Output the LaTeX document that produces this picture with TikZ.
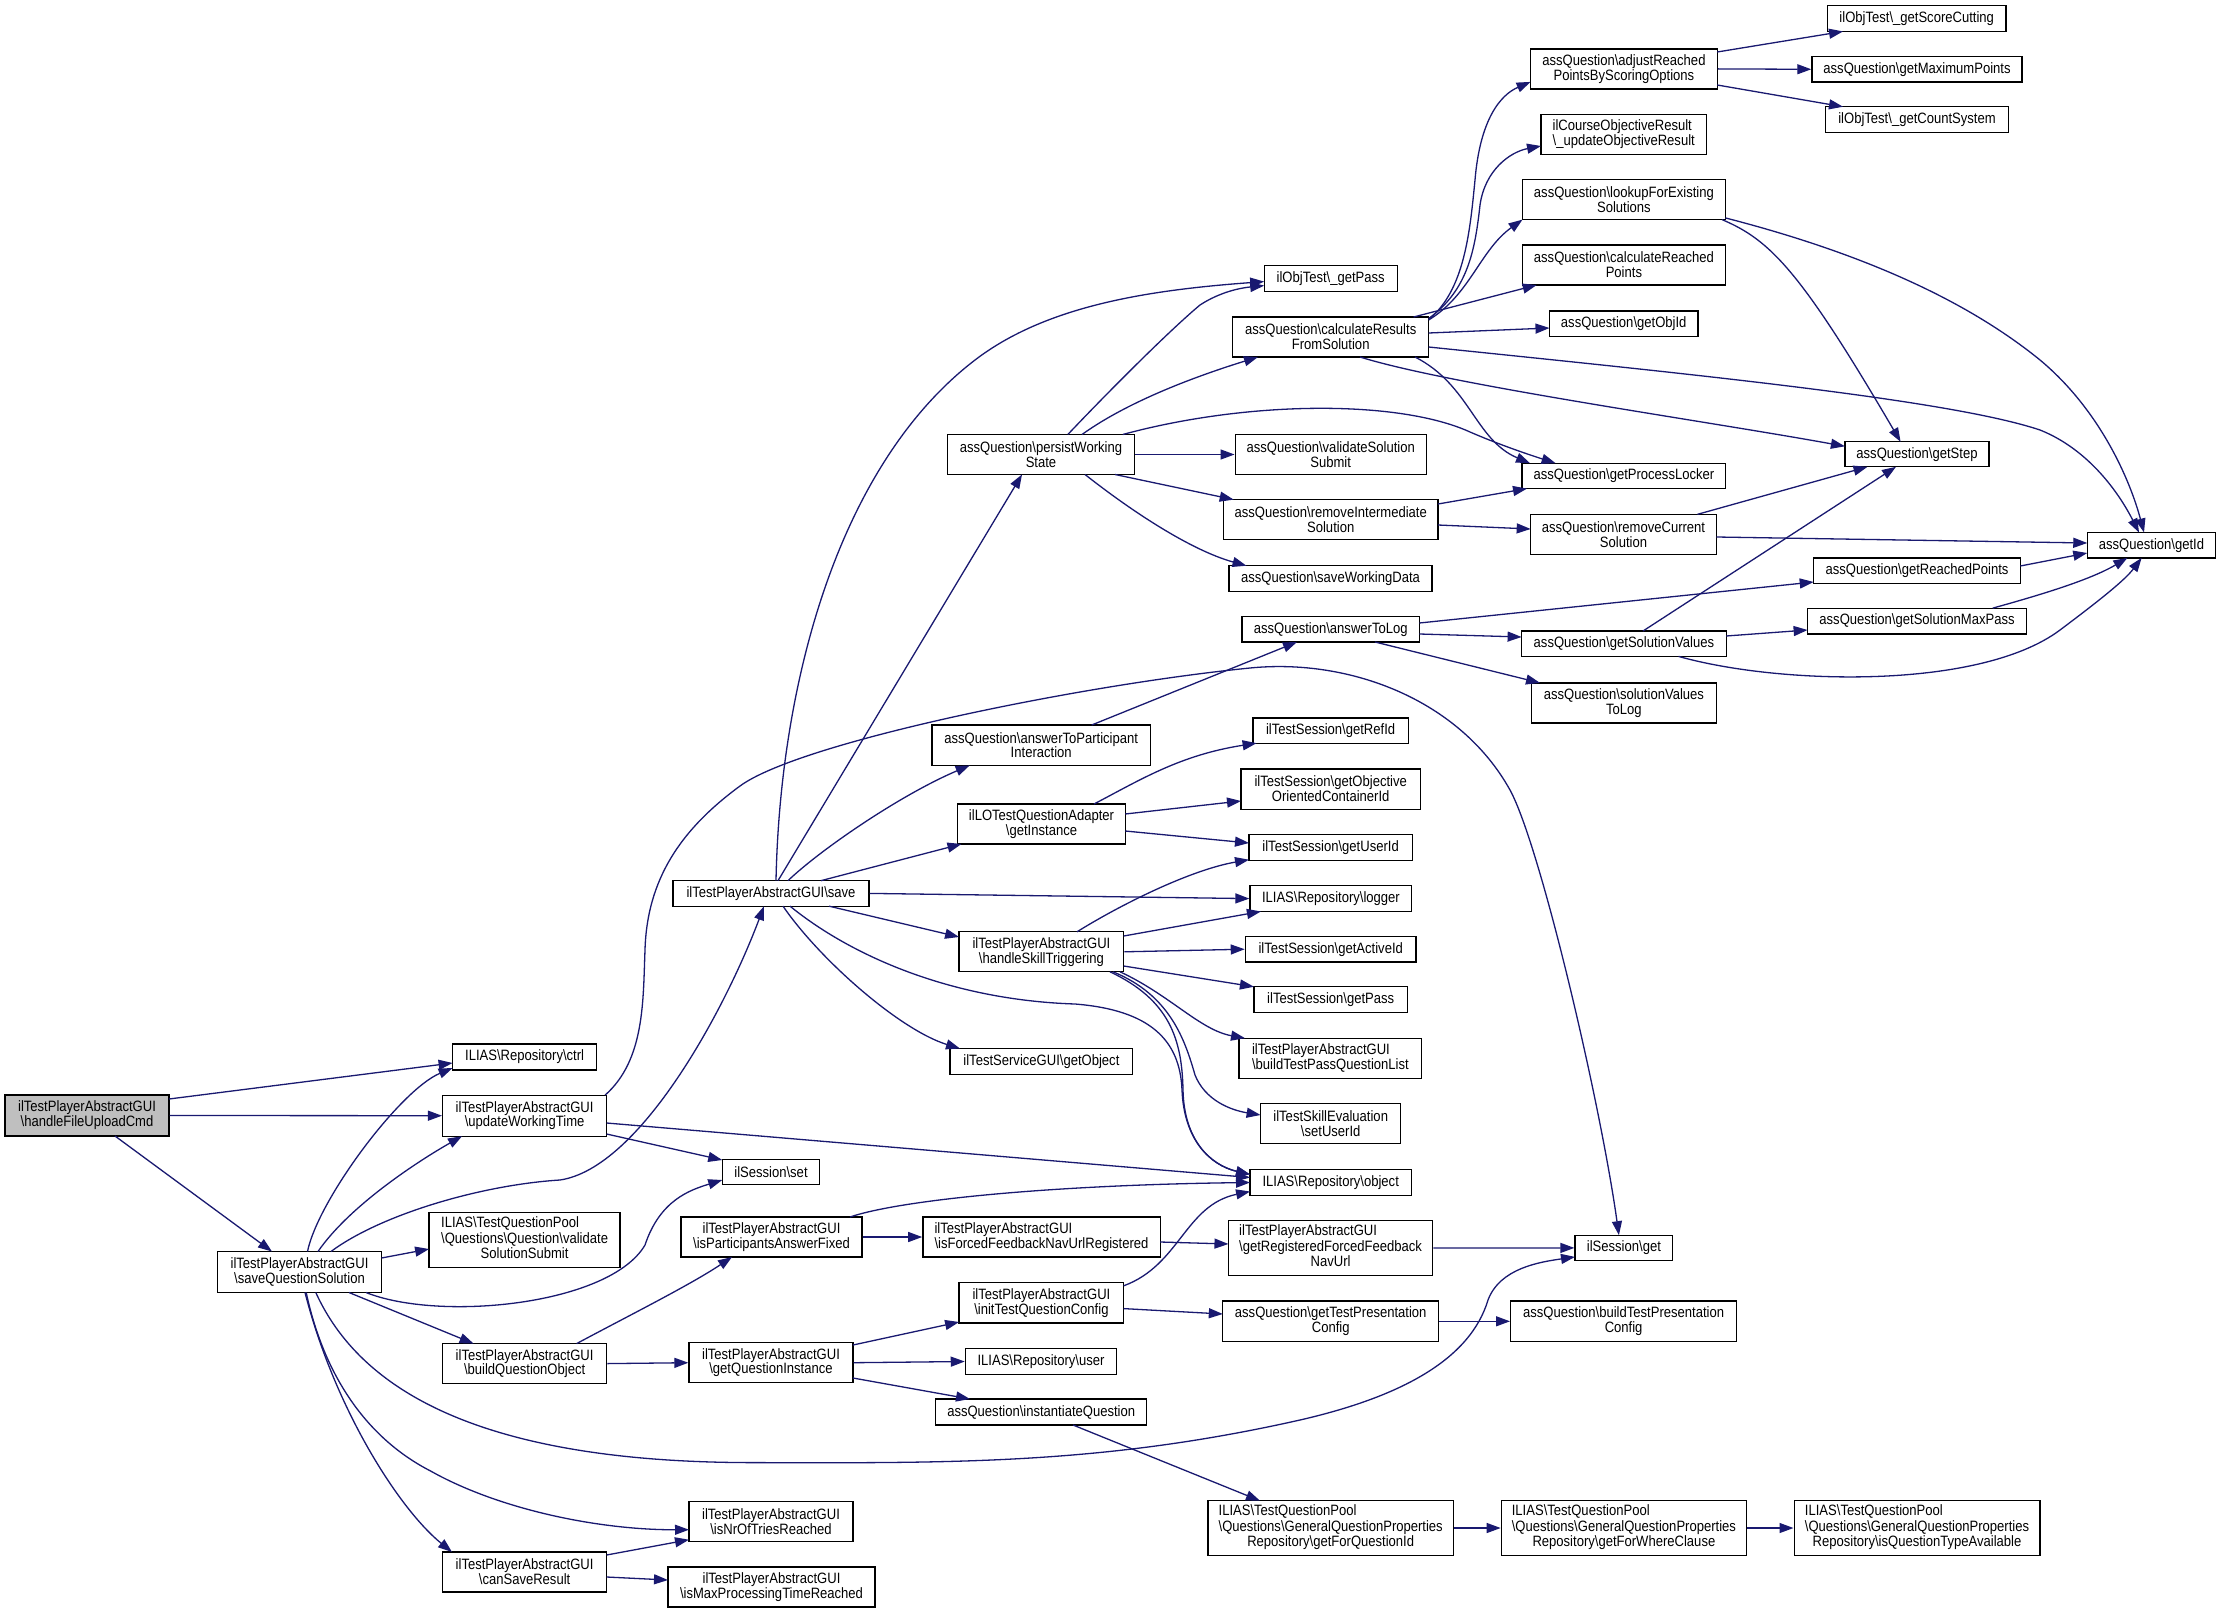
\documentclass[tikz,border=0pt]{standalone}
\usepackage{fontspec}
\setmainfont{Liberation Sans}[FakeStretch=0.87]
\usetikzlibrary{calc,arrows.meta}
\definecolor{edgeblue}{HTML}{191970}
\definecolor{nodegray}{HTML}{BFBFBF}
\newcommand{\BS}{\textbackslash}
\newcommand{\TriLine}[3]{\begin{tabular}{@{}l@{}}#1\\#2\\\multicolumn{1}{@{}c@{}}{#3}\end{tabular}}
\begin{document}
\begin{tikzpicture}[x=1pt,y=-1pt,
  box/.style={draw=black,line width=1.3pt,fill=white,inner sep=0pt,align=center,
    font=\fontsize{15}{14.8}\selectfont,anchor=center},
  cg/.style={draw=edgeblue,line width=1.3pt,-{Triangle[length=14pt,width=10pt]}}]
\useasboundingbox (0,0) rectangle (2221,1613);
\fill[white] (0,0) rectangle (2221,1613);
% column 0-2
\node[box,fill=nodegray,minimum width=164pt,minimum height=41pt] (A) at (87,1115.5) {ilTestPlayerAbstractGUI\\\BS handleFileUploadCmd};
\node[box,minimum width=164pt,minimum height=41pt] (S) at (299.5,1272) {ilTestPlayerAbstractGUI\\\BS saveQuestionSolution};
\node[box,minimum width=144pt,minimum height=26pt] (ctrl) at (524.6,1057) {ILIAS\BS Repository\BS ctrl};
\node[box,minimum width=164pt,minimum height=41pt] (U) at (524.6,1115.7) {ilTestPlayerAbstractGUI\\\BS updateWorkingTime};
\node[box,minimum width=191pt,minimum height=55pt] (VS) at (524.6,1240) {\TriLine{ILIAS\BS TestQuestionPool}{\BS Questions\BS Question\BS validate}{SolutionSubmit}};
\node[box,minimum width=164pt,minimum height=40pt] (B) at (524.6,1363.6) {ilTestPlayerAbstractGUI\\\BS buildQuestionObject};
\node[box,minimum width=164pt,minimum height=40pt] (CS) at (524.6,1572) {ilTestPlayerAbstractGUI\\\BS canSaveResult};
% column 3
\node[box,minimum width=196pt,minimum height=25.5pt] (V) at (771,893.4) {ilTestPlayerAbstractGUI\BS save};
\node[box,minimum width=97.5pt,minimum height=25.5pt] (set) at (771,1172) {ilSession\BS set};
\node[box,minimum width=181pt,minimum height=40pt] (F) at (771.5,1237) {ilTestPlayerAbstractGUI\\\BS isParticipantsAnswerFixed};
\node[box,minimum width=164pt,minimum height=40pt] (GQ) at (771,1362.7) {ilTestPlayerAbstractGUI\\\BS getQuestionInstance};
\node[box,minimum width=164pt,minimum height=40pt] (NT) at (771,1521.7) {ilTestPlayerAbstractGUI\\\BS isNrOfTriesReached};
\node[box,minimum width=207pt,minimum height=40pt] (MP) at (771.5,1587) {ilTestPlayerAbstractGUI\\\BS isMaxProcessingTimeReached};
% column 4
\node[box,minimum width=187pt,minimum height=40pt] (P) at (1041,454.5) {assQuestion\BS persistWorking\\State};
\node[box,minimum width=218.6pt,minimum height=40.4pt] (Q) at (1041.2,745.2) {assQuestion\BS answerToParticipant\\Interaction};
\node[box,minimum width=167.5pt,minimum height=40pt] (I) at (1041.5,824) {ilLOTestQuestionAdapter\\\BS getInstance};
\node[box,minimum width=164.6pt,minimum height=40pt] (H) at (1041.4,951.8) {ilTestPlayerAbstractGUI\\\BS handleSkillTriggering};
\node[box,minimum width=182.8pt,minimum height=25.7pt] (SG) at (1041.4,1061.4) {ilTestServiceGUI\BS getObject};
\node[box,align=left,minimum width=237.3pt,minimum height=40.2pt] (K) at (1041.5,1237) {ilTestPlayerAbstractGUI\\\BS isForcedFeedbackNavUrlRegistered};
\node[box,minimum width=164.6pt,minimum height=40.2pt] (IT) at (1041.4,1302.8) {ilTestPlayerAbstractGUI\\\BS initTestQuestionConfig};
\node[box,minimum width=151.2pt,minimum height=26.2pt] (US) at (1041,1361.5) {ILIAS\BS Repository\BS user};
\node[box,minimum width=211pt,minimum height=26pt] (IQ) at (1041.2,1412) {assQuestion\BS instantiateQuestion};
% column 5
\node[box,minimum width=133pt,minimum height=25.7pt] (OP) at (1330.7,278.6) {ilObjTest\BS\_getPass};
\node[box,minimum width=195.8pt,minimum height=40pt] (C) at (1330.7,337) {assQuestion\BS calculateResults\\FromSolution};
\node[box,minimum width=191pt,minimum height=40pt] (AVS) at (1330.7,454.5) {assQuestion\BS validateSolution\\Submit};
\node[box,minimum width=214.7pt,minimum height=40pt] (RI) at (1330.7,519.6) {assQuestion\BS removeIntermediate\\Solution};
\node[box,minimum width=203pt,minimum height=25.7pt] (SW) at (1330.5,578.6) {assQuestion\BS saveWorkingData};
\node[box,minimum width=177.5pt,minimum height=25.6pt] (T) at (1330.7,629.2) {assQuestion\BS answerToLog};
\node[box,minimum width=155.5pt,minimum height=25.3pt] (RF) at (1330.6,730.5) {ilTestSession\BS getRefId};
\node[box,minimum width=179.4pt,minimum height=40.3pt] (OC) at (1330.7,789) {ilTestSession\BS getObjective\\OrientedContainerId};
\node[box,minimum width=163.2pt,minimum height=26pt] (UI) at (1330.6,847.7) {ilTestSession\BS getUserId};
\node[box,minimum width=161.8pt,minimum height=25.7pt] (LG) at (1330.9,898.6) {ILIAS\BS Repository\BS logger};
\node[box,minimum width=170.7pt,minimum height=25.6pt] (AI) at (1330.7,949.2) {ilTestSession\BS getActiveId};
\node[box,minimum width=153.6pt,minimum height=25.7pt] (TS) at (1330.7,999.6) {ilTestSession\BS getPass};
\node[box,align=left,minimum width=182.8pt,minimum height=40pt] (BL) at (1330.4,1058.2) {ilTestPlayerAbstractGUI\\\BS buildTestPassQuestionList};
\node[box,minimum width=140.2pt,minimum height=39.8pt] (SU) at (1330.7,1123.7) {ilTestSkillEvaluation\\\BS setUserId};
\node[box,minimum width=161.3pt,minimum height=25.5pt] (OB) at (1330.7,1182.5) {ILIAS\BS Repository\BS object};
\node[box,minimum width=204.3pt,minimum height=55.1pt] (N) at (1330.6,1248) {\TriLine{ilTestPlayerAbstractGUI}{\BS getRegisteredForcedFeedback}{NavUrl}};
\node[box,minimum width=215.8pt,minimum height=40.6pt] (TP) at (1330.7,1321.3) {assQuestion\BS getTestPresentation\\Config};
\node[box,minimum width=245.4pt,minimum height=54.5pt] (FQ) at (1330.7,1528) {\TriLine{ILIAS\BS TestQuestionPool}{\BS Questions\BS GeneralQuestionProperties}{Repository\BS getForQuestionId}};
% column 6
\node[box,minimum width=186.6pt,minimum height=40pt] (J) at (1623.9,68.9) {assQuestion\BS adjustReached\\PointsByScoringOptions};
\node[box,align=left,minimum width=165.4pt,minimum height=40.3pt] (CO) at (1623.7,134.5) {ilCourseObjectiveResult\\\BS\_updateObjectiveResult};
\node[box,minimum width=202.8pt,minimum height=40pt] (L) at (1623.9,199.6) {assQuestion\BS lookupForExisting\\Solutions};
\node[box,minimum width=202.8pt,minimum height=40pt] (CR) at (1623.9,265) {assQuestion\BS calculateReached\\Points};
\node[box,minimum width=148.4pt,minimum height=25.4pt] (OI) at (1623.7,323.7) {assQuestion\BS getObjId};
\node[box,minimum width=203.7pt,minimum height=25.4pt] (PL) at (1623.9,475.9) {assQuestion\BS getProcessLocker};
\node[box,minimum width=185.7pt,minimum height=40.3pt] (RC) at (1623.5,534.5) {assQuestion\BS removeCurrent\\Solution};
\node[box,minimum width=204.6pt,minimum height=25.4pt] (G) at (1623.9,643.7) {assQuestion\BS getSolutionValues};
\node[box,minimum width=184.8pt,minimum height=40pt] (SL) at (1623.9,702.9) {assQuestion\BS solutionValues\\ToLog};
\node[box,minimum width=97.8pt,minimum height=25.5pt] (get) at (1623.9,1247.9) {ilSession\BS get};
\node[box,minimum width=225.9pt,minimum height=40.6pt] (BP) at (1623.6,1321.3) {assQuestion\BS buildTestPresentation\\Config};
\node[box,minimum width=245.2pt,minimum height=54.5pt] (FW) at (1623.9,1528) {\TriLine{ILIAS\BS TestQuestionPool}{\BS Questions\BS GeneralQuestionProperties}{Repository\BS getForWhereClause}};
% column 7-8
\node[box,minimum width=178.6pt,minimum height=25.7pt] (SC) at (1916.7,18.6) {ilObjTest\BS\_getScoreCutting};
\node[box,minimum width=210.2pt,minimum height=25.7pt] (MX) at (1917,69.3) {assQuestion\BS getMaximumPoints};
\node[box,minimum width=182.9pt,minimum height=25.7pt] (CN) at (1917,119.6) {ilObjTest\BS\_getCountSystem};
\node[box,minimum width=144.2pt,minimum height=25pt] (ST) at (1917,454.3) {assQuestion\BS getStep};
\node[box,minimum width=206.6pt,minimum height=25.3pt] (RP) at (1917,570.5) {assQuestion\BS getReachedPoints};
\node[box,minimum width=218.8pt,minimum height=25.7pt] (SM) at (1917,621) {assQuestion\BS getSolutionMaxPass};
\node[box,minimum width=245.7pt,minimum height=54.5pt] (QT) at (1917,1528) {\TriLine{ILIAS\BS TestQuestionPool}{\BS Questions\BS GeneralQuestionProperties}{Repository\BS isQuestionTypeAvailable}};
\node[box,minimum width=128.5pt,minimum height=25.4pt] (ID) at (2151.5,545.2) {assQuestion\BS getId};
% ---------- edges ----------
% from A
\draw[cg] ($(A)+(82,-16.5)$) -- ($(ctrl)+(-72,6)$);
\draw[cg] (A.east) -- (U.west);
\draw[cg] ($(A)+(28,20.5)$) -- ($(S)+(-27.5,-20.5)$);
% from S
\draw[cg] ($(S)+(8,-20.5)$) .. controls (318,1200) and (400,1090) .. ($(ctrl)+(-72,11)$);
\draw[cg] ($(S)+(18.5,-20.5)$) .. controls (350,1205) and (420,1160) .. ($(U)+(-62.6,20.5)$);
\draw[cg] ($(S)+(31.5,-20.5)$) .. controls (380,1215) and (480,1185) .. (560,1180) .. controls (640,1168) and (725,1010) .. ($(V)+(-7,12.75)$);
\draw[cg] ($(S)+(66.5,20.5)$) .. controls (440,1322) and (610,1305) .. (645,1245) .. controls (660,1200) and (690,1190) .. ($(set)+(-48.75,8)$);
\draw[cg] ($(S)+(16.3,20.5)$) .. controls (360,1390) and (480,1462) .. (750,1462.6) .. controls (950,1463) and (1100,1465) .. (1300,1420) .. controls (1400,1397) and (1470,1360) .. (1488,1300) .. controls (1500,1268) and (1540,1262) .. ($(get)+(-48.9,9)$);
\draw[cg] ($(S)+(82,-14)$) -- ($(VS)+(-95.5,9)$);
\draw[cg] ($(S)+(49.5,20.5)$) -- ($(B)+(-51,-20)$);
\draw[cg] ($(S)+(6.7,20.5)$) .. controls (325,1380) and (370,1440) .. (430.6,1471) .. controls (500,1510) and (600,1530) .. ($(NT)+(-82,8)$);
\draw[cg] ($(S)+(5.5,20.5)$) .. controls (335,1410) and (400,1510) .. ($(CS)+(-72.6,-20)$);
% from U
\draw[cg] ($(U)+(82,18.3)$) -- ($(set)+(-48.75,-12)$);
\draw[cg] ($(U)+(82,7.3)$) -- ($(OB)+(-80.65,-5)$);
\draw[cg] ($(U)+(80.4,-20.5)$) .. controls (645,1060) and (643,1000) .. (645,950) .. controls (647,880) and (680,830) .. (740,786) .. controls (800,742) and (1080,685) .. (1250,668) .. controls (1350,658) and (1460,700) .. (1510,790) .. controls (1540,845) and (1600,1100) .. ($(get)+(-5,-12.75)$);
% from V (save)
\draw[cg] ($(V)+(5,-12.75)$) .. controls (780,680) and (840,460) .. (979,357) .. controls (1050,305) and (1150,290) .. ($(OP)+(-66.5,3)$);
\draw[cg] ($(V)+(7,-12.75)$) -- ($(P)+(-19,20)$);
\draw[cg] ($(V)+(17,-12.75)$) .. controls (820,850) and (900,795) .. ($(Q)+(-71.5,20.2)$);
\draw[cg] ($(V)+(50,-12.75)$) -- ($(I)+(-80,20)$);
\draw[cg] (V.east) -- (LG.west);
\draw[cg] ($(V)+(58,12.75)$) -- ($(H)+(-82.3,-14.8)$);
\draw[cg] ($(V)+(12,12.75)$) .. controls (820,960) and (900,1030) .. ($(SG)+(-81.4,-12.85)$);
\draw[cg] ($(V)+(19,12.75)$) .. controls (850,955) and (950,1000) .. (1075,1004) .. controls (1150,1010) and (1180,1040) .. (1182,1090) .. controls (1184,1140) and (1210,1165) .. ($(OB)+(-80.65,-8)$);
% from H
\draw[cg] ($(H)+(35.6,-20)$) .. controls (1120,905) and (1190,870) .. ($(UI)+(-81.6,12)$);
\draw[cg] ($(H)+(82.3,-15.8)$) -- ($(LG)+(-70,12.85)$);
\draw[cg] (H.east) -- (AI.west);
\draw[cg] ($(H)+(82.3,14.2)$) -- ($(TS)+(-76.8,-12.85)$);
\draw[cg] ($(H)+(78.6,20)$) .. controls (1170,995) and (1200,1030) .. ($(BL)+(-85.4,-20)$);
\draw[cg] ($(H)+(71.6,20)$) .. controls (1170,995) and (1185,1040) .. (1195,1075) .. controls (1205,1100) and (1230,1110) .. ($(SU)+(-70.1,-8.7)$);
\draw[cg] ($(H)+(68.6,20)$) .. controls (1170,1000) and (1182,1040) .. (1183,1090) .. controls (1184,1140) and (1210,1165) .. ($(OB)+(-80.65,-8)$);
% from I and Q
\draw[cg] ($(I)+(52.5,-20)$) .. controls (1140,780) and (1180,755) .. ($(RF)+(-74,12.65)$);
\draw[cg] ($(I)+(83.75,-10)$) -- ($(OC)+(-89.7,12)$);
\draw[cg] ($(I)+(83.75,7)$) -- ($(UI)+(-81.6,-4.7)$);
\draw[cg] ($(Q)+(50.5,-20.2)$) -- ($(T)+(-33.7,12.8)$);
% from P
\draw[cg] ($(P)+(26.8,-20)$) .. controls (1110,390) and (1170,330) .. (1200,305) .. controls (1220,292) and (1240,288) .. ($(OP)+(-66.5,7)$);
\draw[cg] ($(P)+(41,-20)$) .. controls (1130,400) and (1200,375) .. ($(C)+(-72.7,20)$);
\draw[cg] ($(P)+(81.7,-20)$) .. controls (1250,400) and (1400,400) .. (1470,432) .. controls (1500,445) and (1530,455) .. ($(PL)+(-68.3,-12.7)$);
\draw[cg] (P.east) -- (AVS.west);
\draw[cg] ($(P)+(74,20)$) -- ($(RI)+(-97,-20)$);
\draw[cg] ($(P)+(44,20)$) .. controls (1130,510) and (1190,550) .. ($(SW)+(-84,-12.85)$);
% from C
\draw[cg] ($(C)+(97.9,-17.4)$) .. controls (1465,290) and (1470,230) .. (1475,180) .. controls (1480,120) and (1500,95) .. ($(J)+(-93.3,13)$);
\draw[cg] ($(C)+(97.9,-18.5)$) .. controls (1468,290) and (1475,250) .. (1480,205) .. controls (1485,170) and (1510,152) .. ($(CO)+(-82.7,11.5)$);
\draw[cg] ($(C)+(97.9,-17)$) .. controls (1470,295) and (1480,250) .. ($(L)+(-101.4,20)$);
\draw[cg] ($(C)+(82.9,-20)$) -- ($(CR)+(-87.2,20)$);
\draw[cg] ($(C)+(97.9,-4)$) -- ($(OI)+(-74.2,4.3)$);
\draw[cg] ($(C)+(97.9,10)$) .. controls (1700,375) and (1950,400) .. (2040,430) .. controls (2090,450) and (2120,495) .. ($(ID)+(-12.5,-12.7)$);
\draw[cg] ($(C)+(29.3,20)$) .. controls (1450,385) and (1700,420) .. ($(ST)+(-72.1,-8)$);
\draw[cg] ($(C)+(84.3,20)$) .. controls (1470,385) and (1475,440) .. ($(PL)+(-93.9,-12.7)$);
% from J, L
\draw[cg] ($(J)+(93.3,-16.9)$) -- ($(SC)+(-73.7,12.85)$);
\draw[cg] (J.east) -- (MX.west);
\draw[cg] ($(J)+(93.3,16.1)$) -- ($(CN)+(-74,-12.85)$);
\draw[cg] ($(L)+(101.4,18.3)$) .. controls (1850,250) and (1960,295) .. (2040,360) .. controls (2100,410) and (2130,480) .. ($(ID)+(-7.5,-12.7)$);
\draw[cg] ($(L)+(98.1,20)$) .. controls (1770,240) and (1800,270) .. ($(ST)+(-16.4,-12.5)$);
% from RI, RC
\draw[cg] ($(RI)+(107.3,-15.6)$) -- ($(PL)+(-96.9,12.7)$);
\draw[cg] ($(RI)+(107.3,5.4)$) -- ($(RC)+(-92.85,-5.5)$);
\draw[cg] ($(RC)+(73.9,-20.15)$) -- ($(ST)+(-49.5,12.5)$);
\draw[cg] ($(RC)+(92.85,2.5)$) -- ($(ID)+(-64.25,-2.2)$);
% from T, G
\draw[cg] ($(T)+(88.75,-6.2)$) -- ($(RP)+(-103.3,11.5)$);
\draw[cg] ($(T)+(88.75,4.8)$) -- ($(G)+(-102.3,-6.7)$);
\draw[cg] ($(T)+(44.3,12.8)$) -- ($(SL)+(-83.9,-20)$);
\draw[cg] ($(G)+(19.1,-12.7)$) -- ($(ST)+(-21,12.5)$);
\draw[cg] ($(G)+(102.3,-7.7)$) -- ($(SM)+(-109.4,9)$);
\draw[cg] ($(G)+(54.6,12.7)$) .. controls (1780,685) and (1980,690) .. (2060,630) .. controls (2100,600) and (2125,580) .. ($(ID)+(-9.9,12.7)$);
\draw[cg] ($(RP)+(103.3,-4.5)$) -- ($(ID)+(-64.25,7.8)$);
\draw[cg] ($(SM)+(75.7,-12.85)$) .. controls (2040,595) and (2090,580) .. ($(ID)+(-24.1,12.7)$);
% lower part
\draw[cg] ($(F)+(78.5,-20)$) .. controls (900,1200) and (1050,1185) .. ($(OB)+(-80.65,0)$);
\draw[cg] (F.east) -- (K.west);
\draw[cg] ($(K)+(118.65,5)$) -- ($(N)+(-102.15,-4)$);
\draw[cg] (N.east) -- (get.west);
\draw[cg] ($(B)+(52,-20)$) .. controls (630,1315) and (690,1285) .. ($(F)+(-39.5,20)$);
\draw[cg] (B.east) -- (GQ.west);
\draw[cg] ($(GQ)+(82,-17.7)$) -- ($(IT)+(-82.3,19.2)$);
\draw[cg] (GQ.east) -- (US.west);
\draw[cg] ($(GQ)+(82,15.3)$) -- ($(IQ)+(-71.2,-13)$);
\draw[cg] ($(IT)+(82.3,-17)$) .. controls (1180,1265) and (1185,1205) .. ($(OB)+(-80.65,9)$);
\draw[cg] ($(IT)+(82.3,5.8)$) -- ($(TP)+(-107.9,-7.3)$);
\draw[cg] (TP.east) -- (BP.west);
\draw[cg] ($(IQ)+(31.8,13)$) -- ($(FQ)+(-70.7,-27.25)$);
\draw[cg] (FQ.east) -- (FW.west);
\draw[cg] (FW.east) -- (QT.west);
\draw[cg] ($(CS)+(82,-17)$) -- ($(NT)+(-82,18)$);
\draw[cg] ($(CS)+(82,5)$) -- ($(MP)+(-103.5,-7)$);
\end{tikzpicture}
\end{document}
